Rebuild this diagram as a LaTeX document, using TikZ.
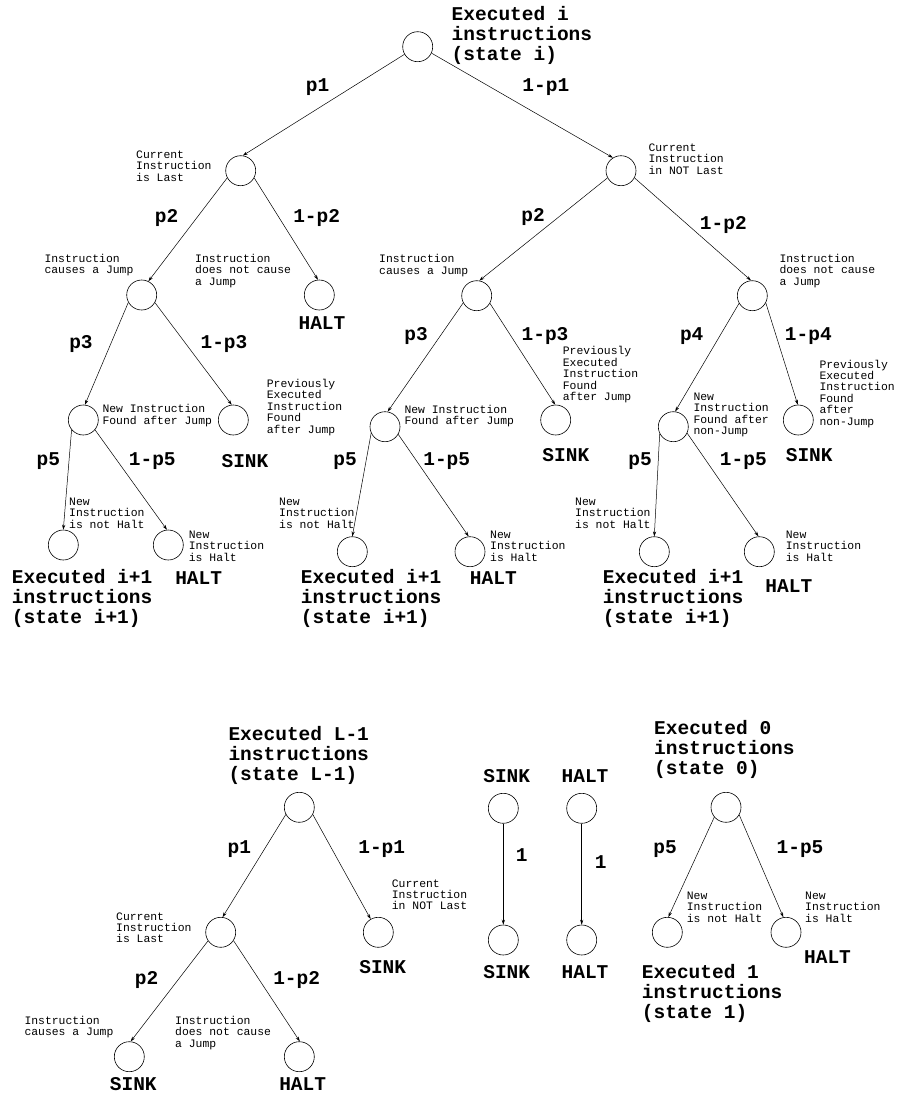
\documentclass[tikz,border=0pt]{standalone}
\usepackage{fontspec}
\newfontfamily\mono{Liberation Mono}
\usetikzlibrary{arrows.meta}
\tikzset{
  st/.style={circle, draw, minimum size=30pt, inner sep=0pt, line width=0.6pt},
  lbl/.style={font=\mono\bfseries\fontsize{19.5}{20}\selectfont, inner sep=0pt},
  big/.style={lbl, align=left, anchor=west},
  note/.style={font=\mono\fontsize{11.4}{11.4}\selectfont, inner sep=0pt, align=left, anchor=west},
  edge/.style={-{Stealth[length=5pt,width=3.2pt]}, line width=0.5pt}
}
\begin{document}
\begin{tikzpicture}[x=1pt,y=-1pt]
\useasboundingbox (0,0) rectangle (897,1095);
% ---- upper tree nodes
\node[st] (R) at (417.7,46.7) {};
\node[st] (A) at (240.7,170.7) {};
\node[st] (B) at (621,170.7) {};
\node[st] (AJ) at (141.7,295) {};
\node[st] (AH) at (319.3,295) {};
\node[st] (AN) at (83.3,420) {};
\node[st] (AS) at (233.3,420) {};
\node[st] (AL) at (63.3,545) {};
\node[st] (AT) at (168.3,545) {};
\node[st] (BJ) at (476.7,295.7) {};
\node[st] (C) at (752.3,295.7) {};
\node[st] (BN) at (385,426.7) {};
\node[st] (BS) at (555.7,420) {};
\node[st] (BL) at (352.3,551.7) {};
\node[st] (BT) at (470,551.7) {};
\node[st] (CN) at (673.3,426.7) {};
\node[st] (CS) at (798.3,420) {};
\node[st] (CL) at (654.3,551.7) {};
\node[st] (CT) at (759.3,551.7) {};
% ---- lower trees nodes
\node[st] (LR) at (299.3,807.3) {};
\node[st] (LA) at (220.7,932.3) {};
\node[st] (LB) at (378.3,932.3) {};
\node[st] (LS) at (129.3,1056.7) {};
\node[st] (LH) at (299.3,1056.7) {};
\node[st] (S1) at (503.3,808.3) {};
\node[st] (S2) at (503.3,940) {};
\node[st] (H1) at (581.7,808.3) {};
\node[st] (H2) at (581.7,940) {};
\node[st] (Z) at (726,807.3) {};
\node[st] (ZL) at (667.3,932.3) {};
\node[st] (ZR) at (786,932.3) {};
% ---- edges
\draw[edge] (R.210) -- (A.82);
\draw[edge] (R.335) -- (B.122);
\draw[edge] (A.208) -- (AJ.64);
\draw[edge] (A.332) -- (AH.95);
\draw[edge] (AJ.209) -- (AN.84);
\draw[edge] (AJ.330) -- (AS.96);
\draw[edge] (AN.220) -- (AL.90);
\draw[edge] (AN.320) -- (AT.95);
\draw[edge] (B.208) -- (BJ.80);
\draw[edge] (B.332) -- (C.95);
\draw[edge] (BJ.208) -- (BN.80);
\draw[edge] (BJ.330) -- (BS.92);
\draw[edge] (BN.205) -- (BL.90);
\draw[edge] (BN.330) -- (BT.95);
\draw[edge] (C.210) -- (CN.83);
\draw[edge] (C.332) -- (CS.92);
\draw[edge] (CN.207) -- (CL.90);
\draw[edge] (CN.335) -- (CT.93);
\draw[edge] (LR.208) -- (LA.83);
\draw[edge] (LR.332) -- (LB.120);
\draw[edge] (LA.214) -- (LS.85);
\draw[edge] (LA.327) -- (LH.88);
\draw[edge] (S1.south) -- (S2.north);
\draw[edge] (H1.south) -- (H2.north);
\draw[edge] (Z.220) -- (ZL.86);
\draw[edge] (Z.330) -- (ZR.100);
% ---- bold labels, upper
\node[big] (tR) at (451.5,35) {Executed i\\instructions\\(state i)};
\node[lbl] (e1) at (317.5,87.3) {p1};
\node[lbl] (e2) at (545.8,87.3) {1-p1};
\node[lbl] (e3) at (166.7,218) {p2};
\node[lbl] (e4) at (316.7,218) {1-p2};
\node[lbl] (e5) at (81,344) {p3};
\node[lbl] (e6) at (224,344) {1-p3};
\node[lbl] (tAH) at (322,322.7) {HALT};
\node[lbl] (tAS) at (245,460.7) {SINK};
\node[lbl] (e7) at (48.3,460.7) {p5};
\node[lbl] (e8) at (152.3,460.7) {1-p5};
\node[big] (tAL) at (11.7,598.6) {Executed i+1\\instructions\\(state i+1)};
\node[lbl] (tAT) at (198.7,578.3) {HALT};
\node[lbl] (e9) at (533,217) {p2};
\node[lbl] (e10) at (723.3,225) {1-p2};
\node[lbl] (e11) at (416,336) {p3};
\node[lbl] (e12) at (545,336) {1-p3};
\node[lbl] (tBS) at (565.8,455) {SINK};
\node[lbl] (e13) at (345,461) {p5};
\node[lbl] (e14) at (446.7,461) {1-p5};
\node[big] (tBL) at (300.7,598.6) {Executed i+1\\instructions\\(state i+1)};
\node[lbl] (tBT) at (493.3,578.3) {HALT};
\node[lbl] (e15) at (691.7,336) {p4};
\node[lbl] (e16) at (808.3,336) {1-p4};
\node[lbl] (tCS) at (809.2,455) {SINK};
\node[lbl] (e17) at (640,461) {p5};
\node[lbl] (e18) at (743.3,461) {1-p5};
\node[big] (tCL) at (602.7,598.6) {Executed i+1\\instructions\\(state i+1)};
\node[lbl] (tCT) at (788.8,585.7) {HALT};
% ---- small notes, upper
\node[note] (nB) at (648.3,159) {Current\\Instruction\\in NOT Last};
\node[note] (nA) at (136,166) {Current\\Instruction\\is Last};
\node[note] (nAJ) at (44.3,265) {Instruction\\causes a Jump};
\node[note] (nAH) at (195,271) {Instruction\\does not cause\\a Jump};
\node[note] (nAN) at (102.3,415.5) {New Instruction\\Found after Jump};
\node[note] (nAS) at (266.7,407.3) {Previously\\Executed\\Instruction\\Found\\after Jump};
\node[note] (nAL) at (69,512.9) {New\\Instruction\\is not Halt};
\node[note] (nAT) at (188.7,546.2) {New\\Instruction\\is Halt};
\node[note] (nBJ) at (379,265.5) {Instruction\\causes a Jump};
\node[note] (nBN) at (404.3,416.2) {New Instruction\\Found after Jump};
\node[note] (nBS) at (562.7,374.7) {Previously\\Executed\\Instruction\\Found\\after Jump};
\node[note] (nBL) at (279,512.9) {New\\Instruction\\is not Halt};
\node[note] (nBT) at (490,546.2) {New\\Instruction\\is Halt};
\node[note] (nC) at (779.3,271) {Instruction\\does not cause\\a Jump};
\node[note] (nCN) at (693.3,414.8) {New\\Instruction\\Found after\\non-Jump};
\node[note] (nCS) at (819.3,393.7) {Previously\\Executed\\Instruction\\Found\\after\\non-Jump};
\node[note] (nCL) at (575,512.9) {New\\Instruction\\is not Halt};
\node[note] (nCT) at (785.7,546.2) {New\\Instruction\\is Halt};
% ---- lower-left tree labels
\node[big] (tLR) at (228.3,755.7) {Executed L-1\\instructions\\(state L-1)};
\node[lbl] (f1) at (239.3,849.3) {p1};
\node[lbl] (f2) at (381.7,849.3) {1-p1};
\node[lbl] (tLB) at (382.7,966.7) {SINK};
\node[lbl] (f3) at (146.7,980) {p2};
\node[lbl] (f4) at (296.7,980) {1-p2};
\node[lbl] (tLS) at (133.3,1084.3) {SINK};
\node[lbl] (tLH) at (302.7,1084.3) {HALT};
\node[note] (nLB) at (391.7,894.8) {Current\\Instruction\\in NOT Last};
\node[note] (nLA) at (116,927.7) {Current\\Instruction\\is Last};
\node[note] (nLS) at (24.3,1027) {Instruction\\causes a Jump};
\node[note] (nLH) at (175,1032.7) {Instruction\\does not cause\\a Jump};
% ---- sink/halt
\node[lbl] (tS1) at (506.7,776) {SINK};
\node[lbl] (tH1) at (585,776) {HALT};
\node[lbl] (tS2) at (506.7,972.3) {SINK};
\node[lbl] (tH2) at (585,972.3) {HALT};
\node[lbl] (g1) at (521.7,855) {1};
\node[lbl] (g2) at (600.7,861.7) {1};
% ---- state 0 tree
\node[big] (tZ) at (654,749.5) {Executed 0\\instructions\\(state 0)};
\node[lbl] (h1) at (665,849.3) {p5};
\node[lbl] (h2) at (800,849.3) {1-p5};
\node[note] (nZL) at (686.7,906.9) {New\\Instruction\\is not Halt};
\node[note] (nZR) at (805,906.9) {New\\Instruction\\is Halt};
\node[lbl] (tZR) at (827.5,957.3) {HALT};
\node[big] (tZL) at (641.7,993) {Executed 1\\instructions\\(state 1)};
\end{tikzpicture}
\end{document}
